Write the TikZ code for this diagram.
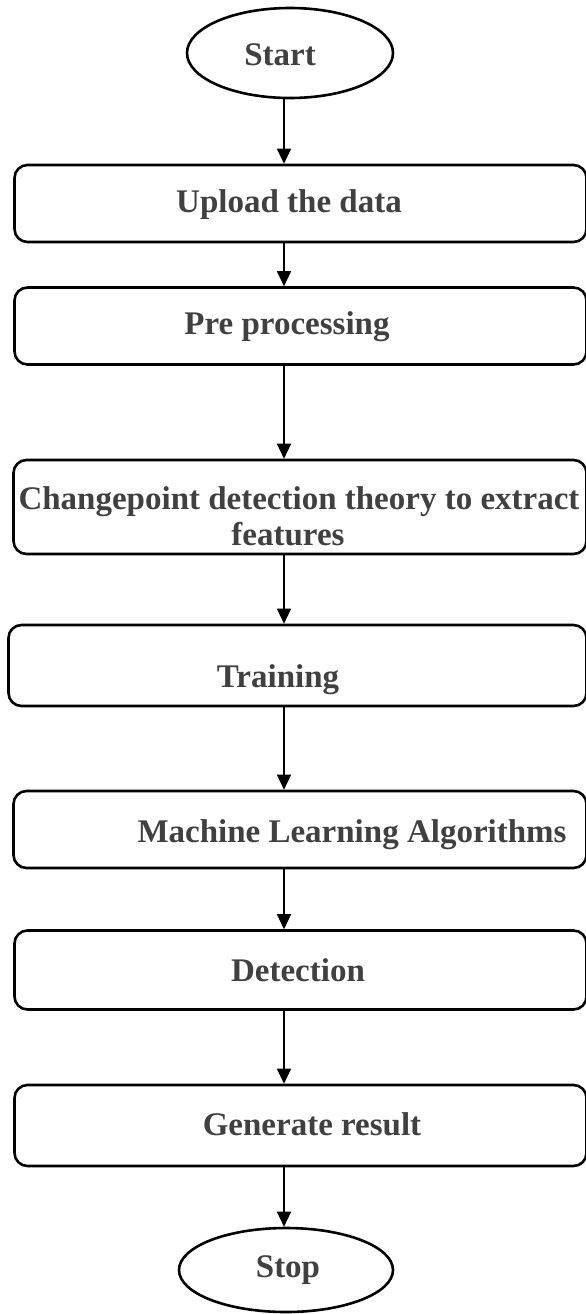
\documentclass[tikz,border=0pt]{standalone}
\usepackage{fontspec}
\setmainfont{Liberation Serif}
\usetikzlibrary{arrows.meta,shapes.geometric}
\definecolor{txtgray}{HTML}{404040}
\tikzset{
  boxshape/.style={draw=black,line width=2.6pt,rounded corners=13pt,inner sep=0pt},
  ovalshape/.style={draw=black,line width=2.6pt,ellipse,inner sep=0pt},
  lbl/.style={text=txtgray,font=\fontsize{33}{36}\selectfont\bfseries,inner sep=0pt,align=center},
  flow/.style={draw=black,line width=1.3pt,-{Triangle[length=15pt,width=14pt]}},
}
\begin{document}
\begin{tikzpicture}[x=1pt,y=-1pt]
\useasboundingbox (0,0) rectangle (586,1314);
\coordinate (ax) at (284,0);
% shapes
\node[ovalshape,minimum width=206pt,minimum height=90pt] (start) at (290,53) {};
\node[boxshape,minimum width=572pt,minimum height=77pt] (upload) at (300.5,203.5) {};
\node[boxshape,minimum width=572pt,minimum height=77pt] (pre) at (300.5,326) {};
\node[boxshape,minimum width=573pt,minimum height=94pt] (cpd) at (300,507) {};
\node[boxshape,minimum width=578pt,minimum height=81pt] (train) at (297.5,665.5) {};
\node[boxshape,minimum width=573pt,minimum height=77pt] (ml) at (300,829.5) {};
\node[boxshape,minimum width=572pt,minimum height=79pt] (det) at (300.5,970) {};
\node[boxshape,minimum width=572pt,minimum height=81pt] (gen) at (300.5,1125.5) {};
\node[ovalshape,minimum width=214pt,minimum height=84pt] (stop) at (286,1270) {};
% labels
\node[lbl] (tstart) at (280,55) {Start};
\node[lbl] (tupload) at (289,205) {Upload the data};
\node[lbl] (tpre) at (287,327) {Pre processing};
\node[lbl] (tcpd) at (299,516) {Changepoint detection theory to extract\\features\hspace*{22pt}};
\node[lbl] (ttrain) at (278,680) {Training};
\node[lbl] (tml) at (352,835) {Machine Learning Algorithms};
\node[lbl] (tdet) at (298,970) {Detection};
\node[lbl] (tgen) at (312,1124) {Generate result};
\node[lbl] (tstop) at (288,1270) {Stop};
% connectors
\draw[flow] (start.south -| ax) -- (upload.north -| ax);
\draw[flow] (upload.south -| ax) -- (pre.north -| ax);
\draw[flow] (pre.south -| ax) -- (cpd.north -| ax);
\draw[flow] (cpd.south -| ax) -- (train.north -| ax);
\draw[flow] (train.south -| ax) -- (ml.north -| ax);
\draw[flow] (ml.south -| ax) -- (det.north -| ax);
\draw[flow] (det.south -| ax) -- (gen.north -| ax);
\draw[flow] (gen.south -| ax) -- (stop.north -| ax);
\end{tikzpicture}
\end{document}
